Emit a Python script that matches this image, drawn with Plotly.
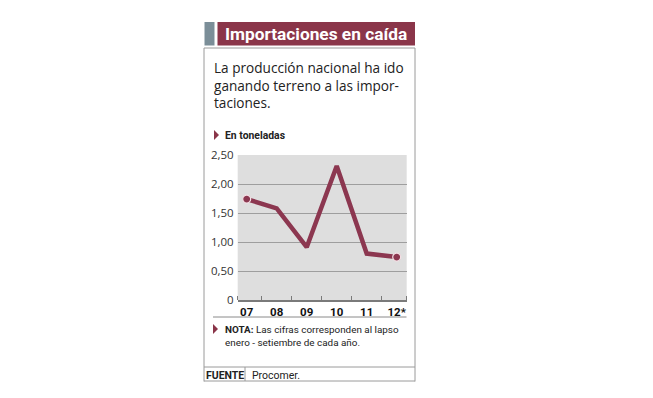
import plotly.graph_objects as go

# ---- data ----
years = ["07", "08", "09", "10", "11", "12*"]
values = [1.74, 1.58, 0.91, 2.31, 0.80, 0.74]
y_ticks = [0, 0.5, 1.0, 1.5, 2.0, 2.5]
y_tick_labels = ["0", "0,50", "1,00", "1,50", "2,00", "2,50"]

# page body has an 8px default margin on every side; size figure to fit
OFF = 8
W, H = 653 - 2 * OFF, 398 - 2 * OFF
MAROON = "#8a3549"
LINE = "#8c3750"
FRAME = "#9a9a9a"


def px(x):
    return (x - OFF) / W


def py(y):
    return 1 - (y - OFF) / H


xs = list(range(len(years)))

fig = go.Figure()
fig.add_trace(go.Scatter(
    x=xs, y=values, mode="lines",
    line=dict(color=LINE, width=4.5),
    hoverinfo="skip", showlegend=False,
))
fig.add_trace(go.Scatter(
    x=[xs[0], xs[-1]], y=[values[0], values[-1]], mode="markers",
    marker=dict(color=LINE, size=8, line=dict(color="#f3dfe4", width=1.2)),
    hoverinfo="skip", showlegend=False,
))

shapes = []


def line(x0, y0, x1, y1, color=FRAME, width=1):
    shapes.append(dict(type="line", xref="paper", yref="paper",
                       x0=px(x0), y0=py(y0), x1=px(x1), y1=py(y1),
                       line=dict(color=color, width=width)))


def rect(x0, y0, x1, y1, color):
    shapes.append(dict(type="rect", xref="paper", yref="paper",
                       x0=px(x0), y0=py(y0), x1=px(x1), y1=py(y1),
                       fillcolor=color, line=dict(width=0)))


def tri(x, yc, w=5, h=10, color=MAROON):
    path = "M {} {} L {} {} L {} {} Z".format(
        px(x), py(yc - h / 2), px(x + w), py(yc), px(x), py(yc + h / 2))
    shapes.append(dict(type="path", xref="paper", yref="paper", path=path,
                       fillcolor=color, line=dict(width=0)))


# title bar
rect(204.5, 22, 214.5, 45.5, "#7b8e98")
rect(217.5, 22, 415, 45.5, MAROON)
# frame
line(204, 48, 415, 48)
line(204, 48, 204, 381.5)
line(415, 48, 415, 381.5)
line(204, 367, 415, 367)
line(204, 381, 415, 381)
line(245, 367, 245, 381)
# line under x labels
line(213, 317, 406.5, 317, color="#8a8a8a")
# triangles
tri(214, 135)
tri(213, 329)

annotations = []


def text(x, y, s, size, color="#222", family="Roboto", xanchor="left"):
    annotations.append(dict(xref="paper", yref="paper", x=px(x), y=py(y),
                            text=s, showarrow=False, xanchor=xanchor,
                            yanchor="middle", align="left", borderpad=0,
                            font=dict(size=size, color=color, family=family)))


text(224, 34, "<b>Importaciones en caída</b>", 17.3, color="white")
text(213, 85, "La producción nacional ha ido<br>"
     "ganando terreno a las impor-<br>taciones.", 13.6, family="Open Sans")
text(224, 135, "<b>En toneladas</b>", 10.4)
text(224, 335.5, "<b>NOTA:</b> Las cifras corresponden al lapso<br>"
     "enero - setiembre de cada año.", 9.9)
text(205, 375, "<b>FUENTE</b>", 10.5)
text(251, 375, "Procomer.", 10.5)

fig.update_layout(
    width=W, height=H,
    margin=dict(l=0, r=0, t=0, b=0, autoexpand=False),
    paper_bgcolor="white",
    plot_bgcolor="#dedede",
    shapes=shapes,
    annotations=annotations,
    xaxis=dict(
        domain=[px(237.7), px(406.7)],
        range=[-0.3, 5.333],
        automargin=False,
        tickmode="array", tickvals=xs, ticktext=years,
        tickfont=dict(family="Roboto", size=11.5, color="#111", weight="bold"),
        ticks="", showgrid=False, zeroline=False,
        showline=True, linecolor="#7a7a7a", linewidth=1.5,
        minor=dict(ticks="inside", tickmode="array",
                   tickvals=[-0.3, 0.5, 1.5, 2.5, 3.5, 4.5, 5.333],
                   ticklen=4, tickcolor="#7a7a7a", tickwidth=1,
                   showgrid=False),
        fixedrange=True,
    ),
    yaxis=dict(
        domain=[py(300), py(155)],
        range=[0, 2.5],
        automargin=False,
        tickmode="array", tickvals=y_ticks, ticktext=y_tick_labels,
        tickfont=dict(family="Open Sans", size=11.5, color="#333"),
        ticks="", showgrid=True, gridcolor="#9e9e9e", gridwidth=1,
        zeroline=False, showline=False, ticklabelstandoff=3,
        fixedrange=True,
    ),
)

fig.write_html("out.html")
